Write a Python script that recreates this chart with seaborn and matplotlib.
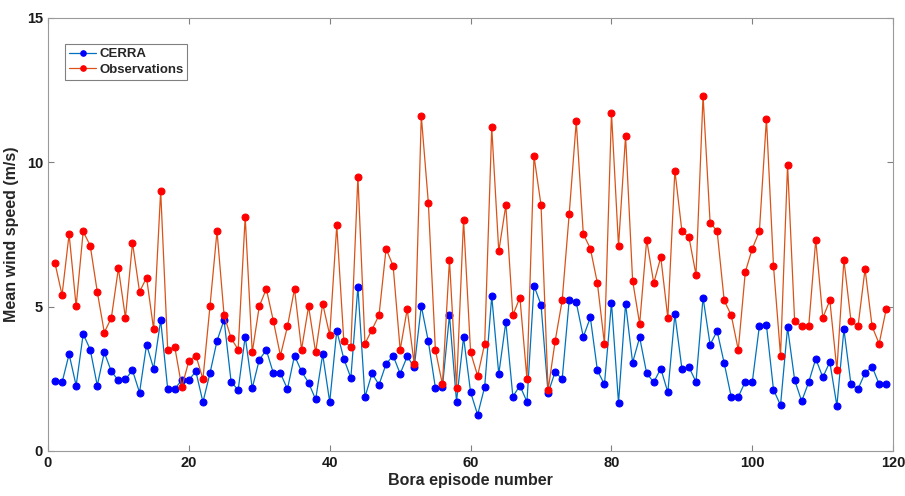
import numpy as np
import pandas as pd
import matplotlib
matplotlib.use("Agg")
import matplotlib.pyplot as plt
import seaborn as sns

# Values, episodes 1..119
episodes = np.arange(1, 120)

cerra = [
    2.42, 2.37, 3.35, 2.26, 4.05, 3.51, 2.26, 3.41, 2.75, 2.44,
    2.48, 2.79, 2.02, 3.68, 2.85, 4.53, 2.14, 2.14, 2.46, 2.46,
    2.75, 1.69, 2.69, 3.81, 4.54, 2.39, 2.11, 3.96, 2.17, 3.16,
    3.49, 2.69, 2.69, 2.14, 3.30, 2.75, 2.36, 1.78, 3.34, 1.69,
    4.16, 3.19, 2.53, 5.68, 1.86, 2.68, 2.29, 3.01, 3.30, 2.67,
    3.27, 2.90, 5.02, 3.79, 2.19, 2.22, 4.70, 1.71, 3.94, 2.03,
    1.25, 2.22, 5.36, 2.66, 4.46, 1.88, 2.26, 1.70, 5.72, 5.06,
    2.00, 2.74, 2.48, 5.23, 5.14, 3.95, 4.62, 2.79, 2.30, 5.13,
    1.66, 5.10, 3.06, 3.93, 2.68, 2.38, 2.85, 2.03, 4.73, 2.84,
    2.90, 2.39, 5.31, 3.68, 4.15, 3.04, 1.87, 1.87, 2.40, 2.40,
    4.33, 4.35, 2.12, 1.58, 4.28, 2.46, 1.72, 2.38, 3.19, 2.55,
    3.08, 1.56, 4.21, 2.30, 2.14, 2.70, 2.92, 2.31, 2.33,
]

observations = [
    6.50, 5.40, 7.51, 5.01, 7.60, 7.11, 5.51, 4.10, 4.61, 6.32,
    4.61, 7.21, 5.51, 6.00, 4.21, 9.01, 3.50, 3.60, 2.21, 3.11,
    3.30, 2.49, 5.01, 7.61, 4.70, 3.90, 3.51, 8.11, 3.41, 5.01,
    5.61, 4.50, 3.30, 4.31, 5.61, 3.51, 5.01, 3.41, 5.10, 4.01,
    7.81, 3.80, 3.60, 9.50, 3.71, 4.20, 4.70, 7.00, 6.41, 3.50,
    4.91, 3.00, 11.60, 8.60, 3.50, 2.30, 6.61, 2.19, 8.00, 3.41,
    2.60, 3.71, 11.21, 6.91, 8.51, 4.70, 5.31, 2.49, 10.21, 8.51,
    2.10, 3.80, 5.21, 8.21, 11.41, 7.51, 7.01, 5.81, 3.71, 11.71,
    7.10, 10.91, 5.90, 4.40, 7.31, 5.81, 6.71, 4.60, 9.71, 7.61,
    7.40, 6.10, 12.31, 7.91, 7.61, 5.21, 4.70, 3.50, 6.20, 7.01,
    7.61, 11.51, 6.41, 3.30, 9.91, 4.50, 4.31, 4.31, 7.31, 4.61,
    5.21, 2.81, 6.61, 4.50, 4.31, 6.30, 4.31, 3.71, 4.91,
]

df = pd.DataFrame({"episode": episodes, "CERRA": cerra, "Observations": observations})

sns.set_style("white")
plt.rcParams["font.family"] = ["Liberation Sans", "DejaVu Sans"]
plt.rcParams["font.weight"] = "bold"

fig = plt.figure(figsize=(9.05, 4.96), dpi=100)
ax = fig.add_axes([0.053, 0.091, 0.934, 0.873])

sns.lineplot(data=df, x="episode", y="CERRA", ax=ax, color="#0072BD", lw=0.9,
             marker="o", markersize=5, markerfacecolor="#0000FF",
             markeredgecolor="#0000FF", label="CERRA")
sns.lineplot(data=df, x="episode", y="Observations", ax=ax, color="#D95319", lw=0.9,
             marker="o", markersize=5, markerfacecolor="#FF0000",
             markeredgecolor="#FF0000", label="Observations")

ax.set_xlim(0, 120)
ax.set_ylim(0, 15)
ax.set_xticks(range(0, 121, 20))
ax.set_yticks([0, 5, 10, 15])
ax.set_xlabel("Bora episode number", fontsize=11.5, fontweight="bold", labelpad=2)
ax.set_ylabel("Mean wind speed (m/s)", fontsize=11.5, fontweight="bold", labelpad=6)
ax.tick_params(direction="in", length=4, width=0.8, colors="#808080",
               labelcolor="#1a1a1a", labelsize=10.5, top=True, right=True,
               bottom=True, left=True)
for lbl in ax.get_xticklabels() + ax.get_yticklabels():
    lbl.set_fontweight("bold")
for s in ax.spines.values():
    s.set_color("#9a9a9a")
    s.set_linewidth(0.8)

leg = ax.legend(loc="upper left", bbox_to_anchor=(0.012, 0.955), fancybox=False,
                framealpha=1, edgecolor="#808080",
                prop={"weight": "bold", "size": 9.5},
                handlelength=2.1, borderpad=0.3, labelspacing=0.25,
                handletextpad=0.2, markerscale=0.8)
leg.get_frame().set_linewidth(0.8)

fig.savefig("out.png", dpi=100)
